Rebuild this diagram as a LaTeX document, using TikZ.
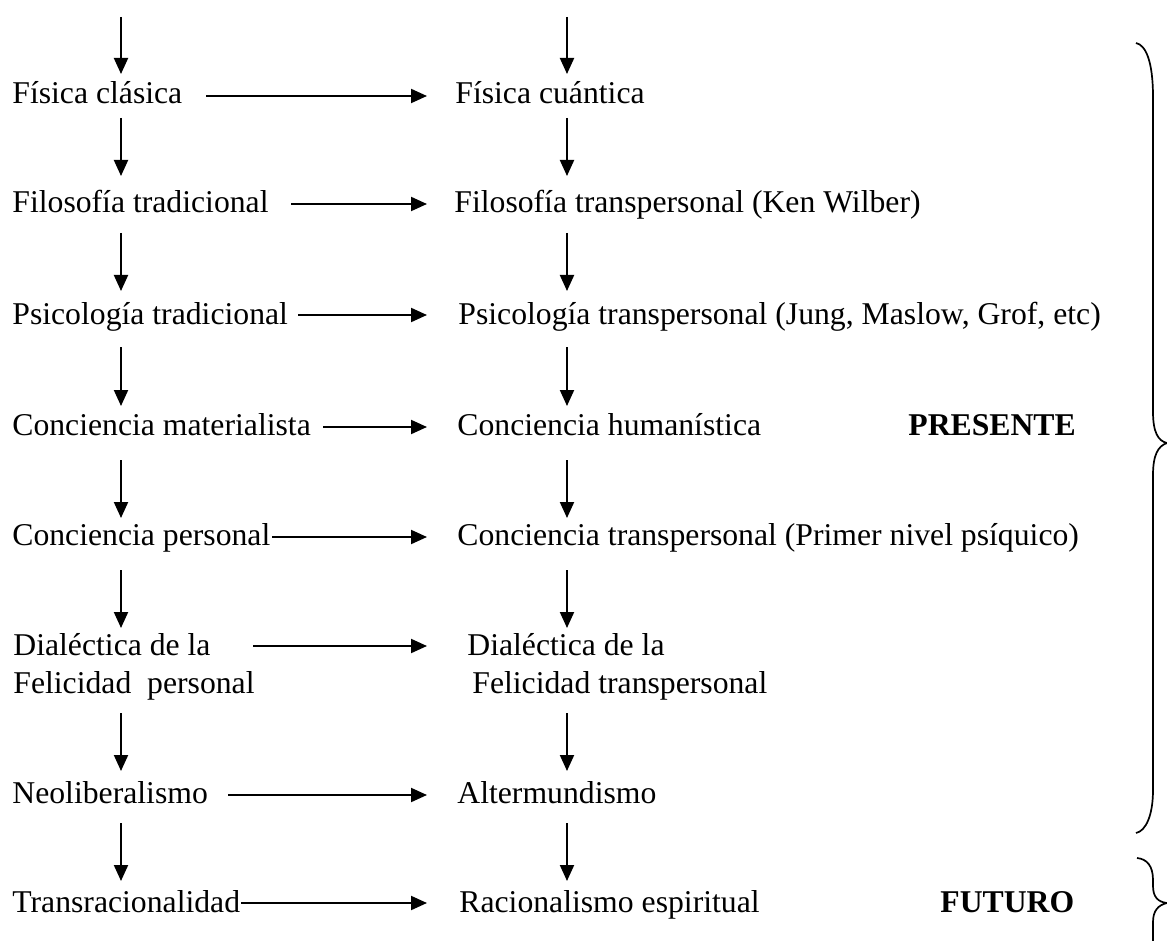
\documentclass[tikz,border=0pt]{standalone}
\usepackage{fontspec}
\setmainfont{Liberation Serif}
\usetikzlibrary{arrows.meta}
\begin{document}
\begin{tikzpicture}[x=0.5pt,y=-0.5pt,
  txt/.style={anchor=base west,inner sep=0pt,font=\fontsize{15.85pt}{19pt}\selectfont},
  btxt/.style={txt,font=\fontsize{15.85pt}{19pt}\selectfont\bfseries},
  arr/.style={line width=1pt,-{Triangle[length=8pt,width=7pt]}},
  brace/.style={line width=0.85pt}]
\useasboundingbox (0,0) rectangle (1167,941);
\clip (0,0) rectangle (1167,941);
% left column
\node[txt] (l1) at (12,104) {Física clásica};
\node[txt] (l2) at (12,213) {Filosofía tradicional};
\node[txt] (l3) at (12,324) {Psicología tradicional};
\node[txt] (l4) at (12,435) {Conciencia materialista};
\node[txt] (l5) at (12,545) {Conciencia personal};
\node[txt] (l6a) at (13,655) {Dialéctica de la};
\node[txt] (l6b) at (13,693) {Felicidad~~personal};
\node[txt] (l7) at (12,803) {Neoliberalismo};
\node[txt] (l8) at (12,912) {Transracionalidad};
% right column
\node[txt] (r1) at (455,104) {Física cuántica};
\node[txt] (r2) at (454,213) {Filosofía transpersonal (Ken Wilber)};
\node[txt] (r3) at (458,324) {Psicología transpersonal (Jung, Maslow, Grof, etc)};
\node[txt] (r4) at (457,435) {Conciencia humanística};
\node[txt] (r5) at (457,545) {Conciencia transpersonal (Primer nivel psíquico)};
\node[txt] (r6a) at (467,655) {Dialéctica de la};
\node[txt] (r6b) at (472,693) {Felicidad transpersonal};
\node[txt] (r7) at (457,803) {Altermundismo};
\node[txt] (r8) at (459,912) {Racionalismo espiritual};
% labels
\node[btxt] (pres) at (908,435) {PRESENTE};
\node[btxt] (fut) at (940,912) {FUTURO};
% horizontal arrows
\foreach \i/\s/\y in {1/206/96, 2/291/204, 3/298/315, 4/323/427, 5/272/537, 6/253/646, 7/228/795, 8/241/903}{
  \coordinate (hs\i) at (\s,\y);
  \coordinate (he\i) at (427,\y);
  \draw[arr] (hs\i) -- (he\i);
}
% vertical arrows
\foreach \i/\a/\b in {0/17/74, 1/118/176, 2/233/291, 3/347/406, 4/460/518, 5/570/628, 6/713/771, 7/823/881}{
  \coordinate (vls\i) at (121,\a);
  \coordinate (vle\i) at (121,\b);
  \coordinate (vrs\i) at (567,\a);
  \coordinate (vre\i) at (567,\b);
  \draw[arr] (vls\i) -- (vle\i);
  \draw[arr] (vrs\i) -- (vre\i);
}
% braces
\draw[brace] (1136,43) .. controls (1146,45) and (1153,62) .. (1153,97)
  -- (1153,412) .. controls (1153,432) and (1158,441) .. (1167,443)
  .. controls (1158,446) and (1153,455) .. (1153,475)
  -- (1153,790) .. controls (1153,815) and (1146,831) .. (1136,833);
\draw[brace] (1137,858) .. controls (1147,859) and (1153,866) .. (1153,880)
  -- (1153,886) .. controls (1153,897) and (1158,902) .. (1167,903)
  .. controls (1158,905) and (1153,911) .. (1153,922)
  -- (1153,940) .. controls (1153,952) and (1147,958) .. (1137,958);
\end{tikzpicture}
\end{document}
